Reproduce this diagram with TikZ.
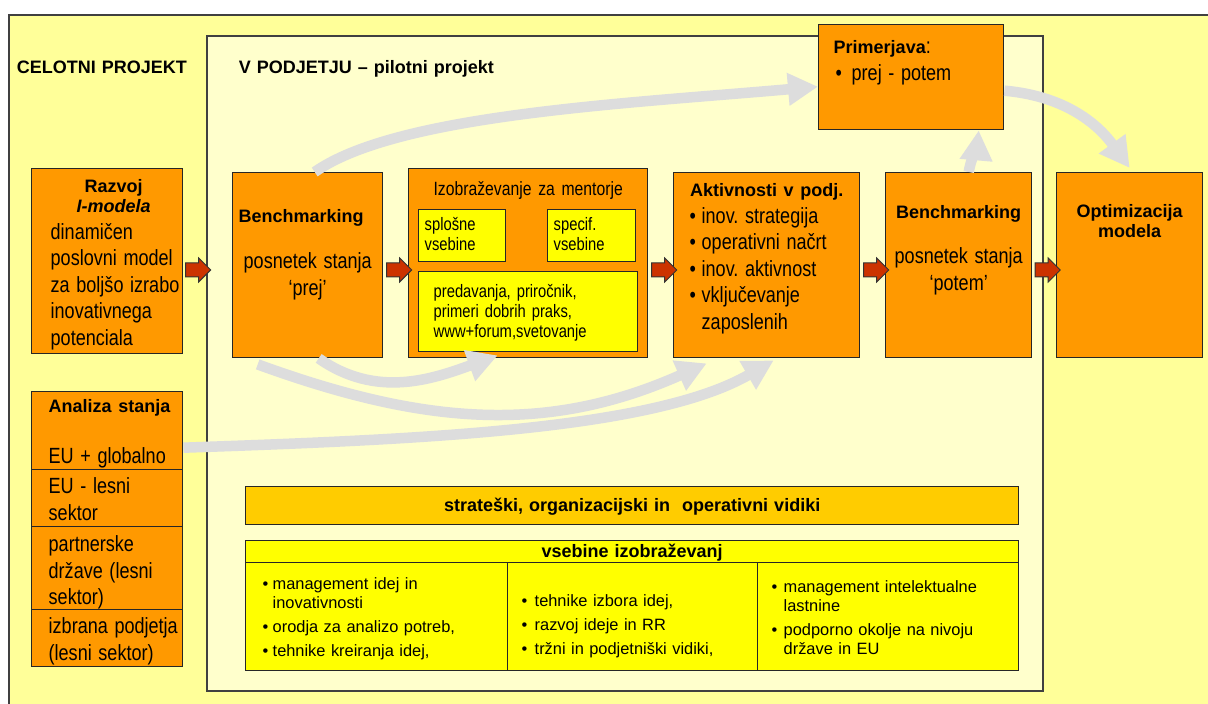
\documentclass[tikz,border=0pt]{standalone}
\usepackage{fontspec}
\setmainfont{Liberation Sans}
\newfontfamily\narrowfont[FakeStretch=0.82,WordSpace=0.9]{Liberation Sans}
\usetikzlibrary{shapes.arrows,arrows.meta}
\frenchspacing
\definecolor{outer}{HTML}{FFFF99}
\definecolor{inner}{HTML}{FFFFCC}
\definecolor{orng}{HTML}{FF9900}
\definecolor{yel}{HTML}{FFFF00}
\definecolor{gold}{HTML}{FFCC00}
\definecolor{arrred}{HTML}{CC3300}
\definecolor{flowgrey}{HTML}{DDDDDD}
\newcommand{\bfs}{\fontsize{9}{10}\selectfont\bfseries}
\newcommand{\nrw}{\narrowfont\fontsize{11}{13.25}\selectfont}
\newcommand{\nrws}{\narrowfont\fontsize{9}{10}\selectfont}
\newcommand{\tbl}{\fontsize{8.2}{9.5}\selectfont}
\newcommand{\bul}[1][6pt]{\makebox[#1][l]{\textbullet}}
\newcommand{\itm}[2]{\hangindent=#1\hangafter=1\makebox[#1][l]{\textbullet}#2\par}
\tikzset{
  frame/.style={draw=black!75, line width=0.8pt, anchor=north west, inner sep=0pt, font=\bfs},
  box/.style={draw=black!85, line width=0.7pt, anchor=north west, inner sep=0pt},
  obox/.style={box, fill=orng},
  ybox/.style={box, fill=yel},
  redarrow/.style={single arrow, draw=black!80, fill=arrred, line width=0.5pt, inner xsep=0pt, inner ysep=3.25pt, minimum height=12.5pt, single arrow head extend=2.5pt},
  flow/.style={draw=flowgrey, line width=5.25pt, -{Triangle[length=15pt,width=15.5pt]}}
}
\begin{document}
\begin{tikzpicture}[x=0.5pt,y=0.5pt]
\useasboundingbox (0,0) rectangle (1208,-704);
\node[frame, fill=outer, text width=595.5pt, inner xsep=4pt, text height=29.5pt, text depth=319.5pt] (celotni) at (8,-14) {CELOTNI PROJEKT};
\node[frame, fill=inner, text width=386pt, inner xsep=16pt, text height=19pt, text depth=308.5pt] (podjetje) at (206,-35) {V PODJETJU – pilotni projekt};

\node[obox, text width=75.5pt, text height=12pt, text depth=80.5pt] (razvoj) at (31,-168)
  {{\centering\leftskip=6.5pt plus 1fil\bfs Razvoj\\ \textit{I-modela}\par}
   {\leftskip=9.5pt\relax\nrw dinamičen\\ poslovni model\\ za boljšo izrabo\\ inovativnega\\ potenciala\par}};
\node[obox, text width=75pt, text height=25pt, text depth=67.5pt] (bencha) at (232,-172)
  {{\leftskip=3pt\relax\bfs Benchmarking\par}\vspace{9.75pt}
   {\centering\nrw posnetek stanja\\ ‘prej’\par}};
\node[obox, text width=119.5pt, text height=13.5pt, text depth=81pt] (izob) at (408,-168)
  {{\centering\narrowfont\fontsize{9.6}{11}\selectfont Izobraževanje za mentorje\par}};
\node[ybox, text width=37.5pt, inner xsep=3pt, text height=10.5pt, text depth=15.5pt, font=\nrws] (splosne) at (418,-209) {splošne\\ vsebine};
\node[ybox, text width=38pt, inner xsep=3pt, text height=10.5pt, text depth=15.5pt, font=\nrws] (specif) at (547,-209) {specif.\\ vsebine};
\node[ybox, text width=94.5pt, inner xsep=7.5pt, text height=13pt, text depth=27pt, font=\nrws] (gradiva) at (418,-271) {predavanja, priročnik,\\ primeri dobrih praks,\\ www+forum,svetovanje};
\node[obox, text width=93pt, text height=12pt, text depth=80.5pt] (aktiv) at (673,-172)
  {{\centering\bfs Aktivnosti v podj.\par}
   {\leftskip=8pt\relax\nrw\bul inov. strategija\\ \bul operativni načrt\\ \bul inov. aktivnost\\ \bul vključevanje\\ \hspace*{6pt}zaposlenih\par}};
\node[obox, text width=73pt, text height=23pt, text depth=69.5pt] (benchb) at (885,-172)
  {{\centering\bfs Benchmarking\par}\vspace{9.25pt}
   {\centering\nrw posnetek stanja\\ ‘potem’\par}};
\node[obox, text width=73pt, text height=22.5pt, text depth=70pt] (optim) at (1056,-172)
  {{\centering\bfs Optimizacija\\ modela\par}};
\node[obox, text width=77.5pt, inner xsep=7.5pt, text height=14.5pt, text depth=38pt] (primer) at (818,-24)
  {{\bfs Primerjava}{\nrw :}\par
   {\nrw\hspace*{1pt}\bul[8pt]prej - potem\par}};

\node[obox, text width=75.5pt, text height=10.5pt, text depth=28.5pt] (analiza) at (31,-391)
  {{\leftskip=8.5pt\relax\bfs Analiza stanja\par}\vspace{12.25pt}{\leftskip=8.5pt\relax\nrw EU + globalno\par}};
\node[obox, text width=75.5pt, text height=12pt, text depth=16.5pt] (eulesni) at (31,-469)
  {{\leftskip=8.5pt\relax\nrw EU - lesni\\ sektor\par}};
\node[obox, text width=75.5pt, text height=12.5pt, text depth=29pt] (partner) at (31,-526)
  {{\leftskip=8.5pt\relax\nrw partnerske\\ države (lesni\\ sektor)\par}};
\node[obox, text width=75.5pt, text height=12pt, text depth=16.5pt] (izbrana) at (31,-609)
  {{\leftskip=8.5pt\relax\nrw izbrana podjetja\\ (lesni sektor)\par}};

\node[box, fill=gold, text width=386.5pt, text height=12.5pt, text depth=6.5pt, font=\bfs, align=center] (vidiki) at (245,-486) {strateški, organizacijski in~ operativni vidiki};
\node[ybox, text width=386.5pt, text height=8.5pt, text depth=2.5pt, font=\bfs, align=center] (vsebine) at (245,-540) {vsebine izobraževanj};
\node[ybox, text width=131pt, text height=13.5pt, text depth=40.5pt, font=\tbl] (tema1) at (245,-562)
  {{\leftskip=8.5pt\relax\parskip=2.5pt\relax
   \itm{5pt}{management idej in\newline inovativnosti}\itm{5pt}{orodja za analizo potreb,}\itm{5pt}{tehnike kreiranja idej,}}};
\node[ybox, text width=125pt, text height=22pt, text depth=32pt, font=\tbl] (tema2) at (507,-562)
  {{\leftskip=7pt\relax\parskip=2.5pt\relax
   \itm{6.5pt}{tehnike izbora idej,}\itm{6.5pt}{razvoj ideje in RR}\itm{6.5pt}{tržni in podjetniški vidiki,}}};
\node[ybox, text width=130.5pt, text height=15pt, text depth=39pt, font=\tbl] (tema3) at (757,-562)
  {{\leftskip=7pt\relax\parskip=2.5pt\relax
   \itm{6pt}{management intelektualne\newline lastnine}\itm{6pt}{podporno okolje na nivoju\newline države in EU}}};

\coordinate (row) at (0,-270);
\foreach \a/\b [count=\i] in {razvoj/podjetje, bencha/izob, izob/aktiv, aktiv/benchb, benchb/optim}
  \path (\a.east |- row) -- (\b.west |- row) node[redarrow, midway] (r\i) {};

\draw[flow] ([xshift=3.5pt]bencha.north) to[out=35, in=185, out looseness=0.5] ([yshift=-4.75pt]primer.west);
\draw[flow] ([xshift=5pt]benchb.north) to[out=80, in=-95] ([xshift=33.75pt]primer.south);
\draw[flow] ([yshift=-6.75pt]primer.east) to[out=-5, in=126] ([yshift=2pt]optim.north);
\draw[flow] ([xshift=5.5pt]bencha.south) to[out=-35, in=200] ([xshift=-15.25pt, yshift=1.5pt]izob.south);
\draw[flow] ([xshift=-25pt, yshift=-3pt]bencha.south) to[out=-20, in=204] ([xshift=-30pt, yshift=-2.5pt]aktiv.south);
\draw[flow] ([yshift=-8.5pt]analiza.east) to[out=2, in=210, in looseness=0.6] ([xshift=3.5pt, yshift=-1pt]aktiv.south);
\end{tikzpicture}
\end{document}
